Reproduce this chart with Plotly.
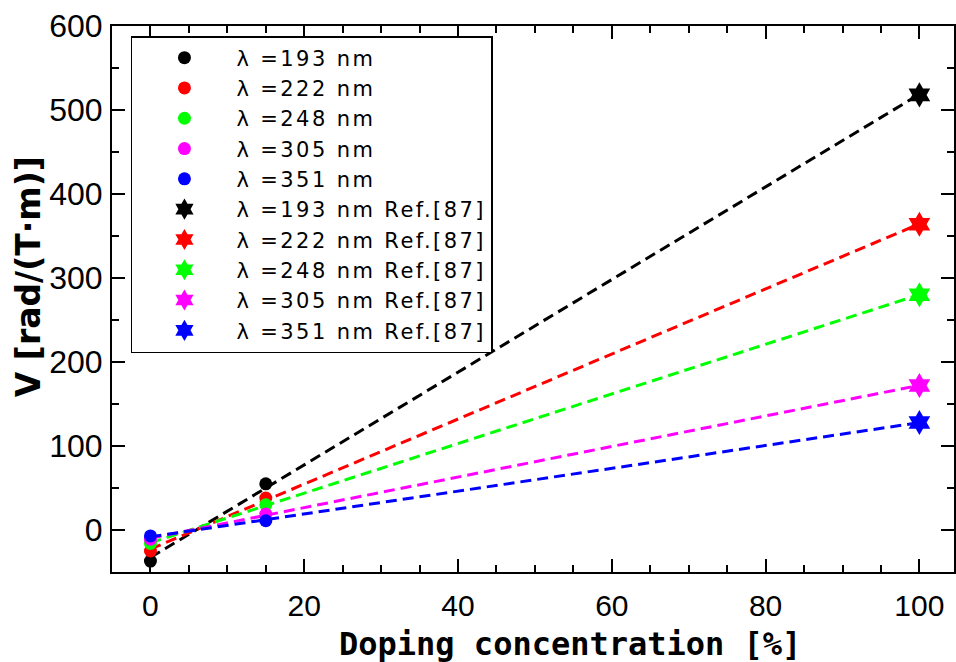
import numpy as np
import plotly.graph_objects as go

# Measured Verdet constants at two doping levels
x_meas = [0, 15]
v193 = [-37, 55]
v222 = [-25, 38]
v248 = [-16, 30]
v305 = [-11, 19]
v351 = [-7, 11]

# Reference values for the pure material (100 %)
x_ref = [100]
r193 = [518]
r222 = [364]
r248 = [280]
r305 = [172]
r351 = [128]

wavelengths = ["193", "222", "248", "305", "351"]
colors = ["#000000", "#ff0000", "#00ff00", "#ff00ff", "#0000ff"]
measured = [v193, v222, v248, v305, v351]
reference = [r193, r222, r248, r305, r351]

x_ticks = [0, 20, 40, 60, 80, 100]
y_ticks = [0, 100, 200, 300, 400, 500, 600]

# wider tracking for legend labels
SPACED = "<span style='letter-spacing:2.4px'>{}</span>"

fig = go.Figure()

# Dashed linear fits through measured + reference points
for meas, ref, col in zip(measured, reference, colors):
    xs = np.array(x_meas + x_ref, dtype=float)
    ys = np.array(meas + ref, dtype=float)
    slope, icpt = np.polyfit(xs, ys, 1)
    xl = np.array([x_meas[0], x_ref[0]], dtype=float)
    fig.add_trace(go.Scatter(
        x=xl, y=slope * xl + icpt, mode="lines",
        line=dict(color=col, width=3, dash="11px,6px"),
        showlegend=False, hoverinfo="skip"))

for wl, meas, col in zip(wavelengths, measured, colors):
    fig.add_trace(go.Scatter(
        x=x_meas, y=meas, mode="markers",
        marker=dict(symbol="circle", size=13, color=col),
        name=SPACED.format(f"λ ={wl} nm")))

for wl, ref, col in zip(wavelengths, reference, colors):
    fig.add_trace(go.Scatter(
        x=x_ref, y=ref, mode="markers",
        marker=dict(symbol="hexagram", size=19, color=col),
        name=SPACED.format(f"λ ={wl} nm Ref.[87]")))

axis_common = dict(
    showline=True, linecolor="black", linewidth=2, mirror="allticks",
    ticks="inside", ticklen=13, tickwidth=2, tickcolor="black",
    showgrid=False, zeroline=False,
)

fig.update_xaxes(
    range=[-5, 104.5], tickvals=x_ticks,
    tickfont=dict(family="Liberation Sans, Arial, sans-serif", size=30, color="black"),
    ticklabelstandoff=6,
    minor=dict(dtick=5, ticks="inside", ticklen=7, tickwidth=2, tickcolor="black"),
    **axis_common)

fig.update_yaxes(
    range=[-50, 600], tickvals=y_ticks,
    tickfont=dict(family="Liberation Sans, Arial, sans-serif", size=32, color="black"),
    ticklabelstandoff=1,
    minor=dict(dtick=50, ticks="inside", ticklen=7, tickwidth=2, tickcolor="black"),
    **axis_common)

fig.add_annotation(
    text="<b>Doping concentration [%]</b>", xref="paper", yref="paper",
    x=(571 - 112) / 844, y=-(644 - 572) / 546, xanchor="center", yanchor="middle",
    showarrow=False,
    font=dict(family="DejaVu Sans Mono, monospace", size=32, color="black"))

fig.add_annotation(
    text="<b>V [rad/(T·m)]</b>", xref="paper", yref="paper",
    x=-(112 - 28) / 844, y=(572 - 277) / 546, xanchor="center", yanchor="middle",
    textangle=-90, showarrow=False,
    font=dict(family="DejaVu Sans, sans-serif", size=33, color="black"))

fig.update_layout(
    width=956, height=662,
    margin=dict(l=112, r=0, t=26, b=90),
    paper_bgcolor="white", plot_bgcolor="white",
    showlegend=True,
    legend=dict(
        x=(131 - 112) / 844, y=(572 - 36) / 546, xanchor="left", yanchor="top",
        bgcolor="white", bordercolor="black", borderwidth=1.5,
        itemwidth=94,
        font=dict(family="DejaVu Sans, sans-serif", size=21, color="black"),
    ),
)

fig.write_html("out.html")
